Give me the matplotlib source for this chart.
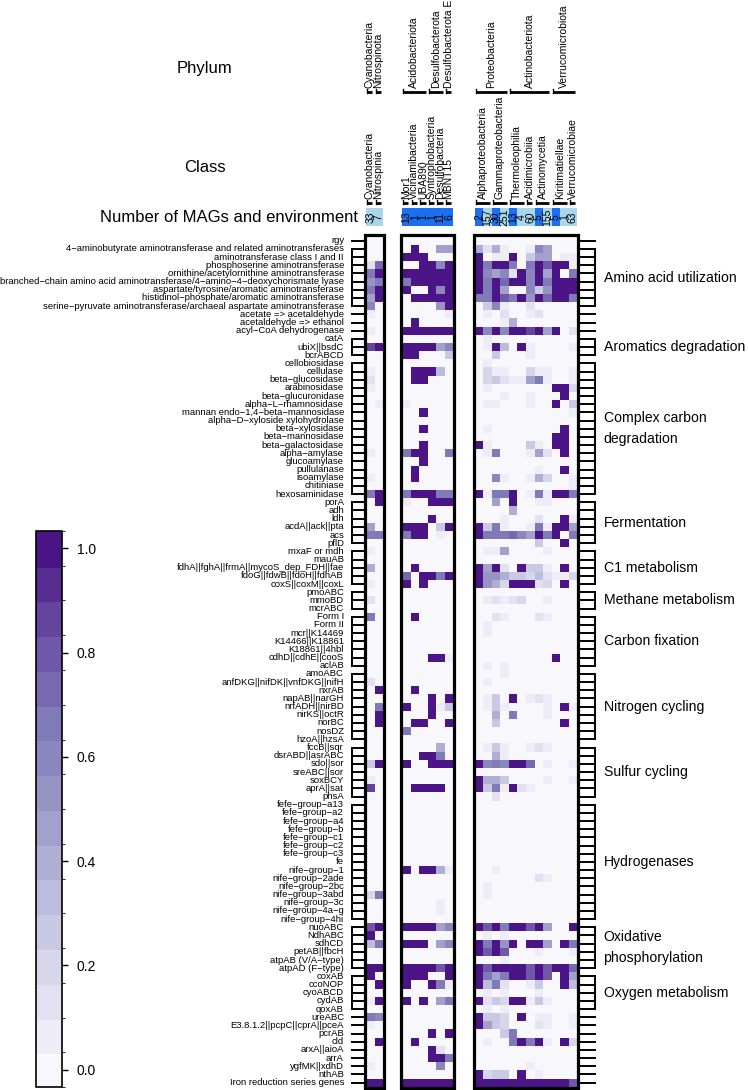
import numpy as np
import matplotlib

matplotlib.use("Agg")
import matplotlib.pyplot as plt
from matplotlib.colors import LinearSegmentedColormap, ListedColormap, BoundaryNorm
from matplotlib.cm import ScalarMappable
from matplotlib.patches import Rectangle

plt.rcParams["font.family"] = ["Liberation Sans", "DejaVu Sans"]

# ---- column annotation ----
phylum_groups = [
    [("Cyanobacteria", 1), ("Nitrospinota", 1)],
    [("Acidobacteriota", 3), ("Desulfobacterota", 2), ("Desulfobacterota E", 1)],
    [("Proteobacteria", 4), ("Actinobacteriota", 5), ("Verrucomicrobiota", 3)],
]
class_groups = [
    [("Cyanobacteria", 1), ("Nitrospinia", 1)],
    [("Mor1", 1), ("Vicinamibacteria", 1), ("UBA890", 1), ("Syntrophobacteria", 1),
     ("Desulfobacteria", 1), ("MBNT15", 1)],
    [("Alphaproteobacteria", 2), ("Gammaproteobacteria", 2), ("Thermoleophilia", 2),
     ("Acidimicrobiia", 1), ("Actinomycetia", 2), ("Kiritimatiellae", 2),
     ("Verrucomicrobiae", 1)],
]
mag_counts = [33, 7, 13, 1, 1, 1, 11, 6, 2, 157, 30, 251, 13, 4, 60, 5, 155, 5, 1, 63]
mag_env = ["b", "b", "a", "a", "a", "a", "a", "a",
           "a", "b", "a", "b", "a", "b", "b", "a", "b", "a", "b", "b"]
ENV_COLORS = {"a": "#1b70f2", "b": "#a9d6ea"}

# ---- rows: (category label, genes, values) ----
top_genes = ["rgy"]
top_vals = [
    [0, 0, 0, 0, 0, 0, 0, 0, 0, 0, 0, 0, 0, 0, 0, 0, 0, 0, 0, 0],
]
amino_genes = [
    "4-aminobutyrate aminotransferase and related aminotransferases",
    "aminotransferase class I and II",
    "phosphoserine aminotransferase",
    "ornithine/acetylornithine aminotransferase",
    "branched-chain amino acid aminotransferase/4-amino-4-deoxychorismate lyase",
    "aspartate/tyrosine/aromatic aminotransferase",
    "histidinol-phosphate/aromatic aminotransferase",
    "serine-pyruvate aminotransferase/archaeal aspartate aminotransferase",
]
amino_vals = [
    [0, 0, 0, 1, 0, 0, .45, .45, .4, .15, .4, .1, 0, 0, .05, .6, .5, 0, 0, 0],
    [0, 0, 1, 1, 1, 0, 0, 0, 1, 0, .1, .1, 1, 0, .3, .5, .5, 0, .05, .1],
    [.15, .75, 0, 0, 1, 1, .6, 1, 1, .7, 1, 1, .7, 0, .7, 1, .8, 1, 1, .1],
    [.7, 1, 1, 1, 1, 1, 1, 1, 1, .6, .45, .6, .15, 1, .6, 1, .5, 1, 0, .7],
    [.55, .7, .7, 1, 1, 1, 1, 1, 1, .7, 1, .75, 1, 1, .6, 1, .7, 1, 1, 1],
    [.7, 1, 1, 0, 0, 1, .6, 1, 1, .65, 1, .5, 0, 0, .6, .3, .55, 1, 1, 1],
    [.5, 1, 0, 1, 1, 1, 1, 1, .7, .7, 1, .8, .65, 1, .55, 1, .75, 1, 1, .7],
    [.6, 0, 0, 0, 0, 0, .55, 1, 0, .3, .6, .1, 0, 0, .15, 0, 0, 0, 0, 0],
]
mid_genes = ["acetate => acetaldehyde", "acetaldehyde => ethanol", "acyl-CoA dehydrogenase"]
mid_vals = [
    [.05, 0, 0, 0, 0, 0, 0, .1, 0, .1, 0, .15, 0, 0, .1, .15, 0, 0, 0, 0],
    [0, 0, 0, 1, 0, 0, 0, 0, 0, 0, 0, .1, .4, 0, 0, 0, 0, 0, 0, 0],
    [.1, 0, 1, 1, 1, 1, 1, 1, 1, .6, 1, .6, 1, 1, .85, 1, .5, 1, 0, .15],
]
arom_genes = ["catA", "ubiX||bsdC", "bcrABCD"]
arom_vals = [
    [0, 0, 0, 0, 0, 0, 0, 0, 0, .05, 0, 0, 0, 0, 0, 0, 0, 0, 0, 0],
    [.85, 1, 1, 1, 1, 1, .5, .6, 0, .1, 1, .35, 0, 1, .05, 0, 0, 0, 0, .05],
    [0, 0, 1, 1, 0, 0, 0, .25, 0, 0, .3, 0, 0, 0, .05, 0, 0, 0, 0, 0],
]
carbon_genes = [
    "cellobiosidase", "cellulase", "beta-glucosidase", "arabinosidase",
    "beta-glucuronidase", "alpha-L-rhamnosidase", "mannan endo-1,4-beta-mannosidase",
    "alpha-D-xyloside xylohydrolase", "beta-xylosidase", "beta-mannosidase",
    "beta-galactosidase", "alpha-amylase", "glucoamylase", "pullulanase",
    "isoamylase", "chitiniase", "hexosaminidase",
]
carbon_vals = [
    [0, 0, 0, 0, 0, 0, 0, 0, 0, .05, 0, 0, 0, 0, 0, 0, 0, 0, 0, 0],
    [.05, 0, 0, 1, 1, 1, .35, 0, 0, .2, .1, .1, 0, 0, .2, .05, .05, 0, 0, .1],
    [.15, 0, 0, 1, 1, 0, 0, 0, 0, .2, .3, .15, .05, .05, .45, .65, .1, 0, 0, .1],
    [.05, 0, 0, 0, 0, 0, 0, 0, 0, .05, 0, 0, 0, 0, 0, 0, 0, 1, 1, .2],
    [0, 0, 0, 0, 0, 0, 0, 0, 0, 0, 0, .05, 0, 0, .05, 0, 0, 0, 1, 0],
    [0, .1, .05, 0, 0, 0, 0, 0, 0, .1, .1, 0, 0, 0, .1, 0, 0, 1, 0, .3],
    [0, 0, 0, 0, 1, 0, 0, 0, 0, 0, 0, 0, 0, 0, 0, 0, 0, 0, 0, .1],
    [0, 0, 0, 0, 0, 0, 0, 0, 0, 0, 0, 0, 0, 0, 0, 0, 0, 0, 0, 0],
    [0, 0, 0, 0, 1, 0, 0, 0, 0, .05, 0, 0, 0, 0, 0, 0, 0, 0, 1, 0],
    [0, 0, 0, 0, 0, 0, 0, 0, 0, 0, 0, 0, 0, 0, 0, 0, 0, 1, 1, 0],
    [0, 0, 0, 0, 1, 0, 0, 0, 1, .05, 0, 0, 0, 0, .25, .1, 0, 1, 1, 0],
    [.1, 0, .7, 1, 1, 0, 0, .65, 0, .05, .65, 0, 0, 0, .05, .45, .15, 0, 1, 0],
    [0, 0, 0, 0, 1, 0, 0, 0, 0, 0, 0, 0, 0, 0, 0, 0, 0, 0, 0, 0],
    [0, 0, 0, 1, 0, 0, 0, 0, 0, 0, 0, 0, 0, 0, 0, .1, 0, 0, 1, 0],
    [.05, 0, 0, 1, 0, 0, 0, 0, 0, 0, .6, .05, 0, 0, .05, .4, .2, 0, 0, .05],
    [0, 0, 0, 0, 0, 0, 0, 0, 0, 0, 0, 0, 0, 0, 0, 0, 0, 0, 0, .05],
    [.65, 1, .7, 1, 1, 1, .65, .65, 1, .1, .65, .65, 1, 0, .1, .65, .05, 1, 1, .7],
]
ferm_genes = ["porA", "adh", "ldh", "acdA||ack||pta", "acs", "pflD"]
ferm_vals = [
    [0, 1, .05, 0, 0, 1, 1, 1, 0, 0, .5, 0, 1, 0, 0, .05, .05, 0, 0, 0],
    [0, 0, 0, 0, 0, 0, 0, 0, 0, 0, 0, 0, .4, 0, 0, 0, 0, 0, 0, 0],
    [0, 0, 0, 0, 0, 1, 0, 0, 0, 0, 0, .05, 0, 0, 0, .15, 0, 0, 1, .05],
    [.45, 0, 1, 1, 1, 0, .3, 1, 1, .3, .65, .1, 0, 0, .1, .65, .1, 1, 1, .5],
    [.65, .7, .7, 1, 1, 0, .1, 0, 1, .7, .7, .7, .75, .6, .45, 1, .7, 1, 0, .7],
    [0, 0, 0, 0, 0, 0, 0, 0, 0, 0, 0, 0, 0, 0, 0, .3, 0, 0, 1, 0],
]
c1_genes = ["mxaF or mdh", "mauAB", "fdhA||fghA||frmA||mycoS_dep_FDH||fae",
            "fdoG||fdwB||fdoH||fdhAB", "coxS||coxM||coxL"]
c1_vals = [
    [.05, 0, 0, 0, 0, 0, 0, 0, 0, .1, .1, .5, 0, 0, 0, 0, .05, 0, 0, 0],
    [0, 0, 0, 0, 0, 0, 0, 0, 0, 0, 0, 0, 0, 0, 0, 0, 0, 0, 0, 0],
    [.4, 0, 0, 1, 0, 0, 0, 0, 1, .5, 1, .15, 0, 1, .3, .25, .05, 0, 1, 0],
    [0, 0, .75, 0, 1, 1, .7, 1, 1, .55, .55, .4, .3, .3, .2, .35, .15, .05, .05, .2],
    [.1, 0, 1, 0, 1, 0, 0, 0, 1, .55, .4, .2, 1, 1, 1, .15, .2, 0, 1, 0],
]
methane_genes = ["pmoABC", "mmoBD", "mcrABC"]
methane_vals = [
    [0, 0, 0, 0, 0, 0, 0, 0, 0, 0, 0, 0, 0, 0, 0, 0, 0, 0, 0, 0],
    [.15, 0, 0, 0, 0, 0, 0, 0, 0, .05, .15, .1, .15, .2, 0, 0, .05, 0, 0, 0],
    [0, 0, 0, 0, 0, 0, 0, 0, 0, 0, 0, 0, 0, 0, 0, 0, 0, 0, 0, 0],
]
fix_genes = ["Form I", "Form II", "mcr||K14469", "K14466||K18861", "K18861||4hbl",
             "cdhD||cdhE||cooS", "aclAB"]
fix_vals = [
    [.7, 0, 0, 1, 0, 0, 0, 0, 0, 0, .15, .05, 0, 0, 0, .15, .05, 0, 0, 0],
    [0, 0, 0, 0, 0, 0, 0, 0, 0, .05, 0, 0, 0, 0, 0, 0, 0, 0, 0, 0],
    [0, 0, 0, 0, 0, 0, 0, 0, 0, .05, 0, 0, 0, 0, 0, 0, 0, 0, 0, 0],
    [0, 0, 0, 0, 0, 0, 0, 0, 0, 0, 0, 0, 0, 0, 0, 0, 0, 0, 0, 0],
    [0, 0, 0, 0, 0, 0, 0, 0, 0, 0, 0, 0, 0, 0, 0, 0, 0, 0, 0, 0],
    [0, 0, 0, 0, 0, 1, 1, .05, 0, 0, 0, 0, 0, 0, 0, 0, 0, 1, 0, 0],
    [0, 0, 0, 0, 0, 0, 0, 0, 0, .05, 0, .1, 0, 0, 0, 0, 0, 0, 0, 0],
]
nitro_genes = ["amoABC", "anfDKG||nifDK||vnfDKG||nifH", "nxrAB", "napAB||narGH",
               "nrfADH||nirBD", "nirKS||octR", "norBC", "nosDZ", "hzoA||hzsA"]
nitro_vals = [
    [0, 0, 0, 0, 0, 0, 0, 0, 0, 0, 0, .05, 0, 0, 0, 0, 0, 0, 0, 0],
    [.15, 0, 0, 0, 0, 0, 0, 0, 0, .05, 0, 0, 0, 0, 0, 0, 0, 0, 0, 0],
    [0, 1, 0, 1, 0, 0, 0, 0, 0, 0, 0, 0, 0, 0, 0, 0, 0, 0, 0, 0],
    [0, 0, 0, 0, 0, 1, 0, 1, 0, .05, .3, 0, 1, 0, .05, .15, .05, 0, 0, 0],
    [0, .7, 1, 0, 0, 1, .1, .3, 0, .05, .3, .05, 0, 0, 0, 0, .05, 0, 1, .1],
    [0, 1, 0, 0, 0, 1, 0, 0, 0, 0, .4, 0, .7, 0, 0, 0, .05, 0, 0, 0],
    [0, 1, 0, 1, 1, 0, 0, 1, 0, 0, .3, 0, 0, 0, 0, 0, 0, 0, 1, 0],
    [0, 0, .7, 0, 0, 0, 0, 0, 0, 0, 0, 0, 0, 0, 0, 0, 0, 0, 0, 0],
    [0, 0, 0, 0, 0, 0, 0, 0, 0, 0, 0, 0, 0, 0, 0, 0, 0, 0, 0, 0],
]
sulfur_genes = ["fccB||sqr", "dsrABD||asrABC", "sdo||sor", "sreABC||sor", "soxBCY",
                "aprA||sat", "phsA"]
sulfur_vals = [
    [0, 0, 0, 0, 0, 0, .4, 0, 0, .1, .3, .05, 0, 0, .05, .15, .05, 0, 0, 0],
    [0, 0, 0, 0, 1, 1, .65, 0, 0, 0, .4, .05, 0, 0, 0, 0, 0, 0, 0, 0],
    [.25, 1, 1, 0, 0, 1, 1, 1, 1, .6, .7, .6, 1, 1, .75, 0, .1, 0, 0, .05],
    [0, 0, 0, 0, 0, 0, 0, 0, 0, 0, 0, 0, 0, 0, 0, 0, 0, 0, 0, 0],
    [.05, 0, 0, 0, 0, 0, 0, 0, 1, .4, .4, .3, 0, 0, 0, 0, .05, 0, 0, .05],
    [.85, 0, 0, 1, 1, 1, 1, 0, 1, .3, .7, .1, 1, .15, .05, 0, 0, 0, 0, 0],
    [0, 0, 0, 0, 0, 0, 0, 0, 0, 0, .15, 0, 0, 0, 0, 0, 0, 0, 0, 0],
]
hyd_genes = ["fefe-group-a13", "fefe-group-a2", "fefe-group-a4", "fefe-group-b",
             "fefe-group-c1", "fefe-group-c2", "fefe-group-c3", "fe", "nife-group-1",
             "nife-group-2ade", "nife-group-2bc", "nife-group-3abd", "nife-group-3c",
             "nife-group-4a-g", "nife-group-4hi"]
hyd_vals = [
    [0, 0, 0, 0, 0, 0, 0, 0, 0, 0, 0, 0, 0, 0, 0, 0, 0, 0, 0, 0],
    [0, 0, 0, 0, 0, 0, 0, 0, 0, 0, 0, 0, 0, 0, 0, 0, 0, 0, 0, 0],
    [0, 0, 0, 0, 0, 0, 0, 0, 0, 0, 0, 0, 0, 0, 0, 0, 0, 0, 0, 0],
    [0, 0, 0, 0, 0, 0, 0, 0, 0, 0, 0, 0, 0, 0, 0, 0, 0, 0, 0, 0],
    [0, 0, 0, 0, 0, 0, 0, 0, 0, 0, 0, 0, 0, 0, 0, 0, 0, 0, 0, 0],
    [0, 0, 0, 0, 0, 0, 0, 0, 0, 0, 0, 0, 0, 0, 0, 0, 0, 0, 0, 0],
    [0, 0, 0, 0, 0, 0, 0, 0, 0, 0, 0, 0, 0, 0, 0, 0, 0, 0, 0, 0],
    [0, 0, 0, 0, 0, 0, 0, 0, 0, 0, 0, 0, 0, 0, 0, 0, 0, 0, 0, 0],
    [0, 0, 1, 0, 1, 1, .4, .05, 0, 0, .1, 0, 0, 0, 0, 0, 0, 0, 0, 0],
    [0, 0, 0, 0, 0, 0, 0, 0, 0, 0, 0, 0, 0, 0, 0, .15, .1, 0, 0, 0],
    [0, 0, 0, 0, 0, 0, 0, 0, 0, .05, 0, 0, 0, 0, 0, 0, 0, 0, 0, 0],
    [.2, .7, 0, 0, 0, 0, 0, 0, 0, .1, 0, 0, 0, 0, 0, 0, 0, 0, 0, 0],
    [0, 0, 0, 0, 0, 0, .1, 0, 0, 0, 0, 0, 0, 0, 0, 0, 0, 0, 0, 0],
    [0, 0, 0, 0, 0, 0, .05, 0, 0, 0, 0, 0, 0, 0, 0, 0, 0, 0, 0, 0],
    [0, 0, 0, 0, 0, 0, 0, 0, 0, 0, 0, 0, 0, 0, 0, 0, 0, 0, 0, 0],
]
oxphos_genes = ["nuoABC", "NdhABC", "sdhCD", "petAB||fbcH", "atpAB (V/A-type)",
                "atpAD (F-type)"]
oxphos_vals = [
    [.8, 1, 1, 1, 1, 1, .5, .6, 1, .8, 1, .7, 1, 1, .8, 1, .5, 0, 0, 1],
    [1, 0, 0, 0, 0, 0, 0, 0, 0, .05, 0, .1, 0, 0, 0, 0, 0, 0, 0, 0],
    [.35, .7, 1, 1, 1, 0, .5, .6, 1, .7, 1, .55, 1, 0, 1, 1, .45, 0, 1, .7],
    [0, 0, 0, 0, 0, 0, 0, 0, 1, .8, 1, .8, 0, 0, 0, .05, 0, 0, 0, .05],
    [0, 0, 0, 0, 0, 0, 0, 0, 0, 0, 0, .05, 0, 0, 0, 0, 0, 0, 0, 0],
    [1, 1, 1, 1, 1, 1, .8, 1, 1, .8, 1, 1, 1, 1, .8, 1, .8, 1, 1, .75],
]
oxygen_genes = ["coxAB", "ccoNOP", "cyoABCD", "cydAB", "qoxAB"]
oxygen_vals = [
    [1, 0, 1, 1, 1, 0, 0, 1, 1, .7, .5, .7, 1, 1, .8, 1, .8, 0, 1, .5],
    [0, 1, 1, 0, 0, 1, .65, .1, 1, .35, .7, .15, 0, 0, .05, .25, 0, 0, 1, .35],
    [0, 0, 0, 0, 0, 0, 0, 0, 0, .05, 0, .05, 0, 0, 0, .05, 0, 0, 0, 0],
    [.1, 1, 1, 0, 1, 0, .45, .65, 1, .15, .25, .2, 1, 1, .05, .3, .05, 0, 0, 0],
    [0, 0, 0, 0, 0, 0, 0, 0, 0, .05, 0, .05, 0, 0, 0, 0, 0, 0, 0, 0],
]
other_genes = ["ureABC", "E3.8.1.2||pcpC||cprA||pceA", "pcrAB", "cld", "arxA||aioA",
               "arrA", "ygfMK||xdhD", "nthAB", "Iron reduction series genes"]
other_vals = [
    [.7, .6, 0, 0, 0, 0, 0, 0, 1, .25, .25, .2, 0, 1, 0, .1, .1, 0, 0, .05],
    [.05, 0, 0, 0, 0, 0, 0, 0, 1, .5, .3, .2, 0, 0, 0, .15, .1, 0, 0, .05],
    [0, 0, 0, 0, 0, 1, 0, 1, 0, 0, 0, .25, .7, 0, 0, 0, 0, 0, 0, 0],
    [0, 1, 0, 1, 0, 0, 0, 0, 0, .05, 0, 0, .65, 1, .7, 1, .05, 0, 1, .2],
    [0, 0, 0, 0, 0, 1, .15, 0, 0, 0, 0, 0, 0, 0, 0, 0, 0, 0, 0, 0],
    [0, 0, 0, 0, 0, 1, 1, .65, 0, 0, 0, 0, 0, 0, 0, 0, 0, 0, 0, 0],
    [.05, 0, 0, 0, 0, 0, .6, 0, 0, 0, 0, 0, 0, 0, .1, 0, 0, 0, 0, 0],
    [0, 0, 0, 0, 0, 0, 0, 0, 1, .2, .3, .25, 0, 1, 0, .05, 0, 0, 0, 0],
    [1, 1, 1, 1, 1, 1, 1, 1, 1, 1, 1, 1, 1, 1, 1, 1, 1, 1, 1, .8],
]

sections = [
    (None, top_genes, top_vals),
    ("Amino acid utilization", amino_genes, amino_vals),
    (None, mid_genes, mid_vals),
    ("Aromatics degradation", arom_genes, arom_vals),
    ("Complex carbon\ndegradation", carbon_genes, carbon_vals),
    ("Fermentation", ferm_genes, ferm_vals),
    ("C1 metabolism", c1_genes, c1_vals),
    ("Methane metabolism", methane_genes, methane_vals),
    ("Carbon fixation", fix_genes, fix_vals),
    ("Nitrogen cycling", nitro_genes, nitro_vals),
    ("Sulfur cycling", sulfur_genes, sulfur_vals),
    ("Hydrogenases", hyd_genes, hyd_vals),
    ("Oxidative\nphosphorylation", oxphos_genes, oxphos_vals),
    ("Oxygen metabolism", oxygen_genes, oxygen_vals),
    (None, other_genes, other_vals),
]

genes = [g for _, gs, _ in sections for g in gs]
matrix = np.array([row for _, _, vs in sections for row in vs], dtype=float)
n_rows = len(genes)

# ---- colours ----
base = LinearSegmentedColormap.from_list(
    "purp", ["#f8f7fc", "#dedcee", "#bdbcdc", "#9e99c8", "#807ab9", "#6a50a3", "#4b1587"])
cmap = ListedColormap([base(i / 15) for i in range(16)])
bounds = np.linspace(-1 / 30, 1 + 1 / 30, 17)
norm = BoundaryNorm(bounds, cmap.N)

# ---- geometry (pixels of the 748x1090 canvas) ----
W, H = 748, 1090
CELL_W = 8.55
ROW_H = 8.173
X0, Y0 = 366.0, 236.7
panel_start = [0.0, 4.21, 12.71]
panel_size = [2, 6, 12]
xmax = panel_start[-1] + panel_size[-1]


def fx(px):
    return (px - X0) / CELL_W


def fy(py):
    return (py - Y0) / ROW_H


fig = plt.figure(figsize=(W / 100, H / 100), dpi=100)
ax = fig.add_axes([X0 / W, 1 - (Y0 + ROW_H * n_rows) / H,
                   CELL_W * xmax / W, ROW_H * n_rows / H])
ax.set_xlim(0, xmax)
ax.set_ylim(n_rows, 0)
ax.axis("off")

col_x = []
c = 0
for start, size in zip(panel_start, panel_size):
    sub = matrix[:, c:c + size]
    ax.pcolormesh(np.arange(size + 1) + start, np.arange(n_rows + 1), sub,
                  cmap=cmap, norm=norm)
    ax.add_patch(Rectangle((start - 0.13, -0.17), size + 0.26, n_rows + 0.34,
                           fill=False, ec="black", lw=2.3, joinstyle="miter",
                           clip_on=False))
    col_x.extend(start + i for i in range(size))
    c += size

# ---- row labels and brackets ----
tick_kw = dict(color="black", lw=1.4, clip_on=False, solid_capstyle="projecting")
lx0, lx1 = fx(351.5), fx(364)
rx0, rx1 = fx(580.5), fx(594.5)
r = 0
for label, gs, _ in sections:
    for i, g in enumerate(gs):
        y = r + i + 0.5
        ax.text(fx(344), y, g.replace("-", "\u2212"), ha="right", va="center",
                fontsize=6.8)
        ax.plot([lx0, lx1], [y, y], **tick_kw)
        ax.plot([rx0, rx1], [y, y], **tick_kw)
    if label is not None:
        y_a, y_b = r + 0.5, r + len(gs) - 0.5
        ax.plot([lx0, lx0], [y_a, y_b], **tick_kw)
        ax.plot([rx1, rx1], [y_a, y_b], **tick_kw)
        ax.text(fx(603.5), (y_a + y_b) / 2, label, ha="left", va="center",
                fontsize=10.1, linespacing=1.6)
    r += len(gs)

# ---- column annotation ----
ax.text(fx(205), fy(68), "Phylum", ha="center", va="center", fontsize=12)
ax.text(fx(205), fy(168), "Class", ha="center", va="center", fontsize=12)
ax.text(fx(358), fy(218), "Number of MAGs and environment", ha="right",
        va="center", fontsize=12)

bar_kw = dict(color="black", lw=2.0, clip_on=False, solid_capstyle="butt")


def draw_groups(groups_per_panel, bar_py, text_py):
    for start, groups in zip(panel_start, groups_per_panel):
        pos = start
        for name, n in groups:
            ax.plot([pos + 0.12, pos + n - 0.25], [fy(bar_py), fy(bar_py)], **bar_kw)
            ax.plot([pos + 0.12, pos + 0.12], [fy(bar_py + 1), fy(bar_py - 3)],
                    color="black", lw=1.0, clip_on=False)
            ax.text(pos + n / 2 - 0.05, fy(text_py), name, rotation=90,
                    ha="center", va="bottom", fontsize=7.5)
            pos += n


draw_groups(phylum_groups, 91.5, 88)
draw_groups(class_groups, 203, 199)

for x, n, env in zip(col_x, mag_counts, mag_env):
    ax.add_patch(Rectangle((x, fy(208.3)), 1, fy(226) - fy(208.3),
                           fc=ENV_COLORS[env], ec="none", clip_on=False))
    ax.text(x + 0.5, fy(217.2), str(n), rotation=90, ha="center", va="center",
            fontsize=7.5)

# ---- colour key ----
cax = fig.add_axes([36 / W, 1 - 1087 / H, 26 / W, 556 / H])
cb = fig.colorbar(ScalarMappable(norm=norm, cmap=cmap), cax=cax,
                  ticks=[0, 0.2, 0.4, 0.6, 0.8, 1.0])
cb.ax.set_yticklabels(["0.0", "0.2", "0.4", "0.6", "0.8", "1.0"])
cb.outline.set_linewidth(1.2)
cb.solids.set_edgecolor("face")
cax.tick_params(length=4.5, width=1.0, labelsize=10, pad=6)

fig.savefig("out.png", dpi=100)
